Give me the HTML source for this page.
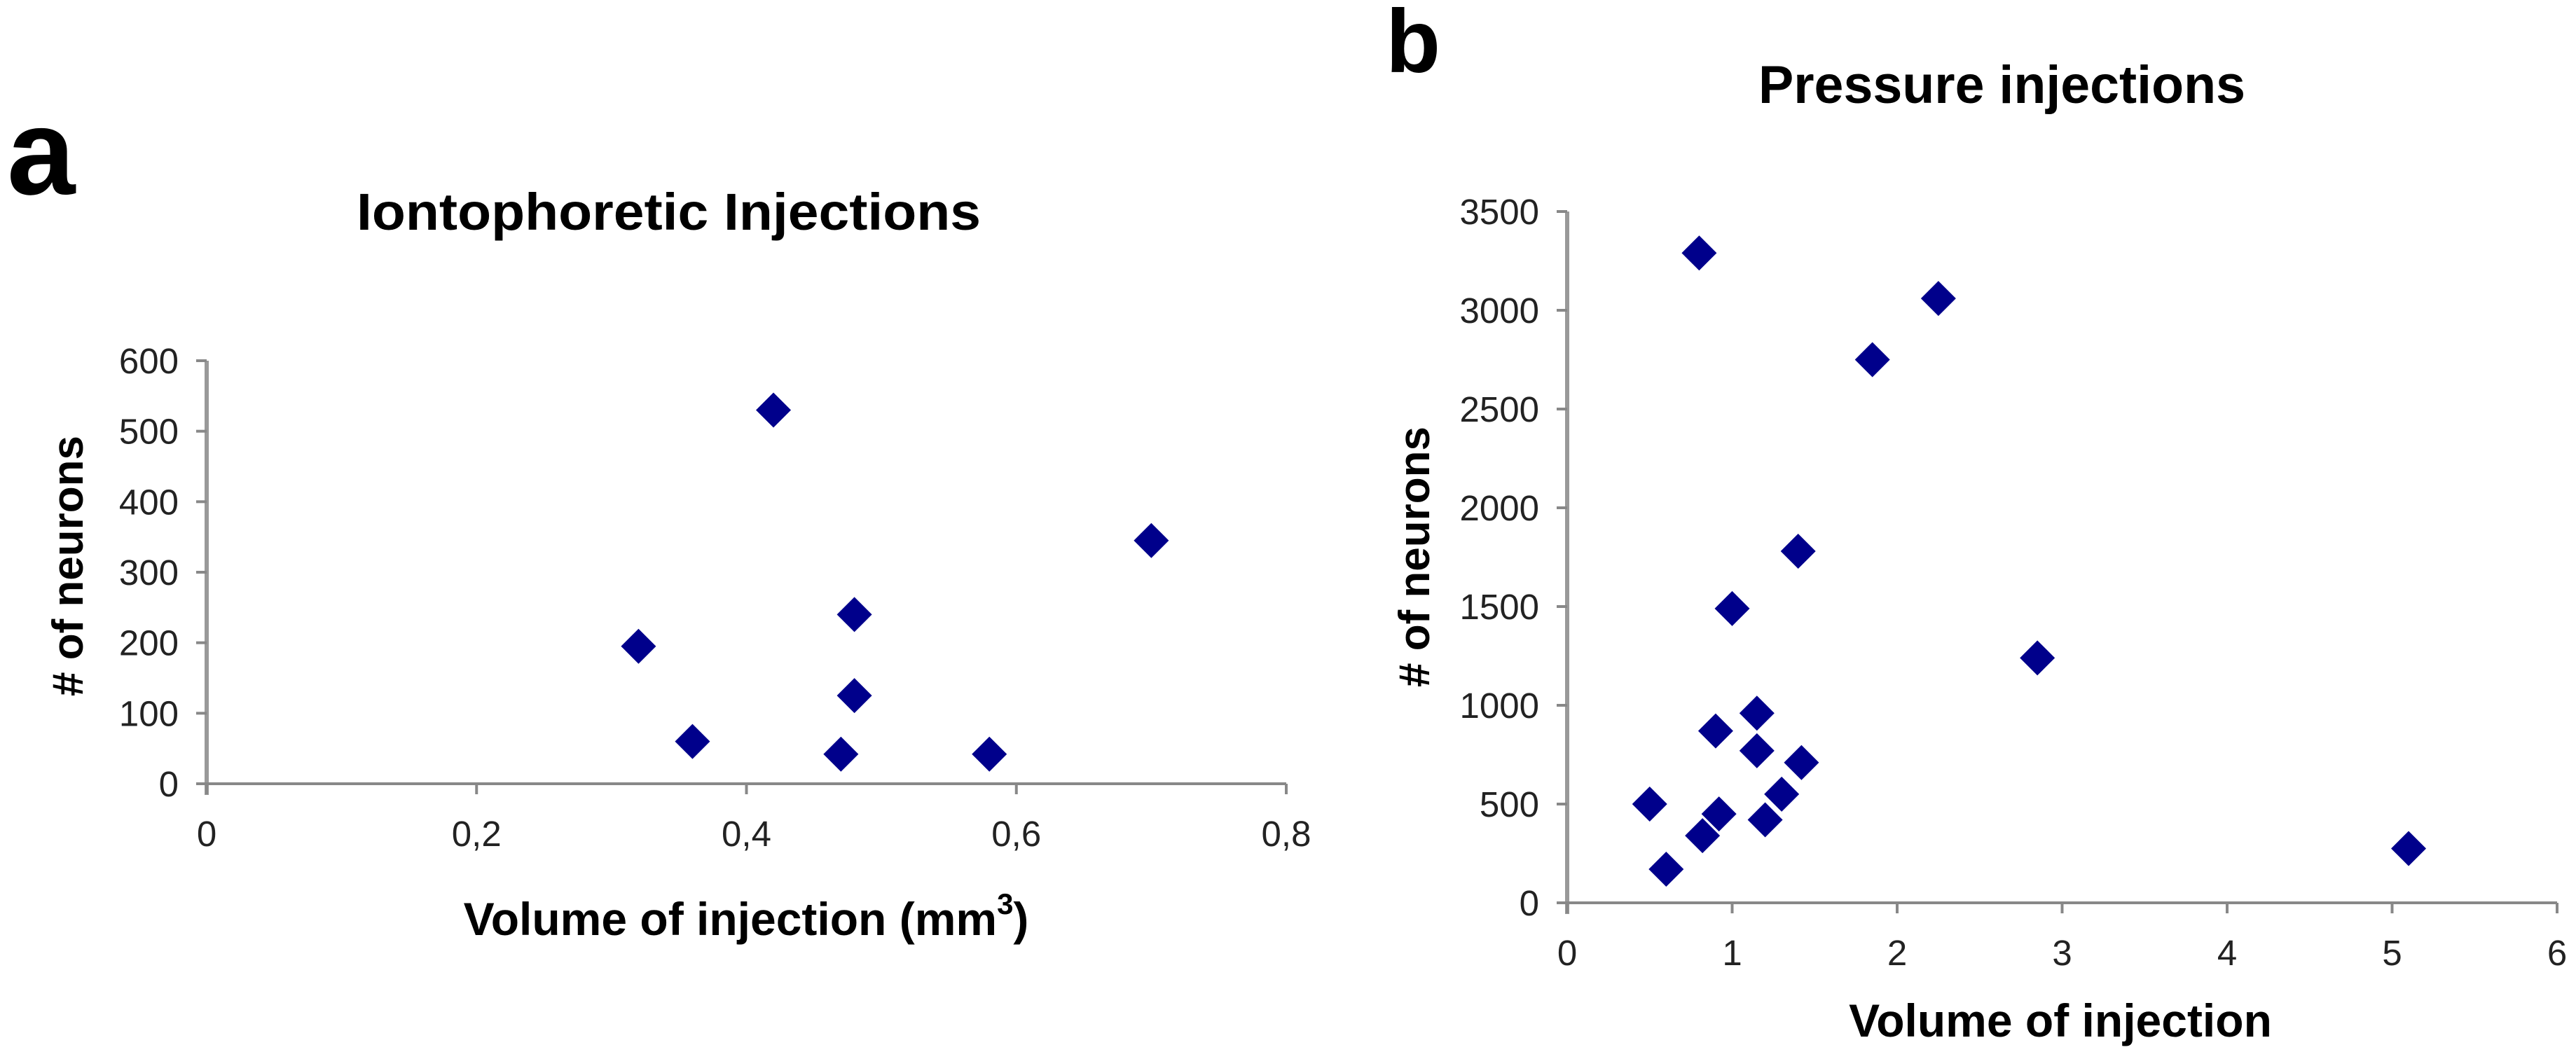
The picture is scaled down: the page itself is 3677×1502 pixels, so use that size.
<!DOCTYPE html>
<html><head><meta charset="utf-8"><style>
html,body{margin:0;padding:0;background:#fff;}
svg{display:block;font-family:"Liberation Sans",Arial,sans-serif;}
</style></head><body>
<svg id="fig" width="3677" height="1502" viewBox="0 0 3677 1502">
<text x="10" y="277" font-size="175" font-weight="bold">a</text>
<text x="1978" y="103" font-size="128" font-weight="bold">b</text>
<text x="509" y="328" font-size="74" font-weight="bold" textLength="891" lengthAdjust="spacingAndGlyphs">Iontophoretic Injections</text>
<text x="2510" y="147" font-size="76" font-weight="bold" textLength="695" lengthAdjust="spacingAndGlyphs">Pressure injections</text>
<text transform="translate(118,808) rotate(-90)" font-size="62" font-weight="bold" text-anchor="middle"># of neurons</text>
<text transform="translate(2040,795) rotate(-90)" font-size="62" font-weight="bold" text-anchor="middle"># of neurons</text>
<text x="1065" y="1335" font-size="66" font-weight="bold" text-anchor="middle">Volume of injection (mm<tspan dy="-30" font-size="42">3</tspan><tspan dy="30">)</tspan></text>
<text x="2941" y="1480" font-size="66" font-weight="bold" text-anchor="middle">Volume of injection</text>
<g id="ga"></g><g id="gb"></g>
</svg>
<script>
const aX = [0.32,0.36,0.42,0.47,0.48,0.48,0.58,0.70];
const aY = [195,60,530,42,240,125,42,345];
const aXTicks = [0,0.2,0.4,0.6,0.8];
const aXTickLabels = ["0","0,2","0,4","0,6","0,8"];
const aYTicks = [0,100,200,300,400,500,600];
const bX = [0.8,2.25,1.85,1.4,1.0,2.85,1.15,0.9,1.15,1.42,0.5,1.3,0.92,1.2,0.82,0.6,5.1];
const bY = [3290,3060,2750,1780,1490,1240,960,870,770,710,500,550,450,420,340,170,275];
const bXTicks = [0,1,2,3,4,5,6];
const bYTicks = [0,500,1000,1500,2000,2500,3000,3500];
const NS="http://www.w3.org/2000/svg";
function mk(tag,attrs,parent){const e=document.createElementNS(NS,tag);for(const k in attrs)e.setAttribute(k,attrs[k]);parent.appendChild(e);return e;}
function draw(g,cfg,xs,ys,xt,xtl,yt,prefix){
  const sx=v=>cfg.x0+(v-cfg.xmin)/(cfg.xmax-cfg.xmin)*(cfg.x1-cfg.x0);
  const sy=v=>cfg.y0-(v-cfg.ymin)/(cfg.ymax-cfg.ymin)*(cfg.y0-cfg.y1);
  const ya=mk('line',{x1:cfg.x0,y1:cfg.y1,x2:cfg.x0,y2:cfg.y0+16,stroke:'#999',"stroke-width":6},g);
  
  
  const xa=mk('line',{x1:cfg.x0-15,y1:cfg.y0,x2:cfg.x1,y2:cfg.y0,stroke:'#888',"stroke-width":4},g);
  
  
  yt.forEach(v=>{
    const y=sy(v);
    mk('line',{x1:cfg.x0-15,y1:y,x2:cfg.x0,y2:y,stroke:'#888',"stroke-width":4},g);
    const t=mk('text',{x:cfg.x0-40,y:y+18,"font-size":51,"text-anchor":"end",fill:'#222'},g);
    t.textContent=String(v);
    
    
  });
  xt.forEach((v,i)=>{
    const x=sx(v);
    mk('line',{x1:x,y1:cfg.y0,x2:x,y2:cfg.y0+15,stroke:'#888',"stroke-width":4},g);
    const t=mk('text',{x:x,y:cfg.y0+89,"font-size":51,"text-anchor":"middle",fill:'#222'},g);
    t.textContent=xtl?xtl[i]:String(v);
    
    
  });
  xs.forEach((v,i)=>{
    const cx=sx(v),cy=sy(ys[i]),r=25;
    const p=mk('polygon',{points:`${cx},${cy-r} ${cx+r},${cy} ${cx},${cy+r} ${cx-r},${cy}`,fill:'#00008b'},g);
    
    
  });
}
draw(document.getElementById('ga'),{x0:295,x1:1836,y0:1119,y1:515,xmin:0,xmax:0.8,ymin:0,ymax:600},aX,aY,aXTicks,aXTickLabels,aYTicks,'chart-a');
draw(document.getElementById('gb'),{x0:2237,x1:3650,y0:1289,y1:302,xmin:0,xmax:6,ymin:0,ymax:3500},bX,bY,bXTicks,null,bYTicks,'chart-b');
</script>
</body></html>
